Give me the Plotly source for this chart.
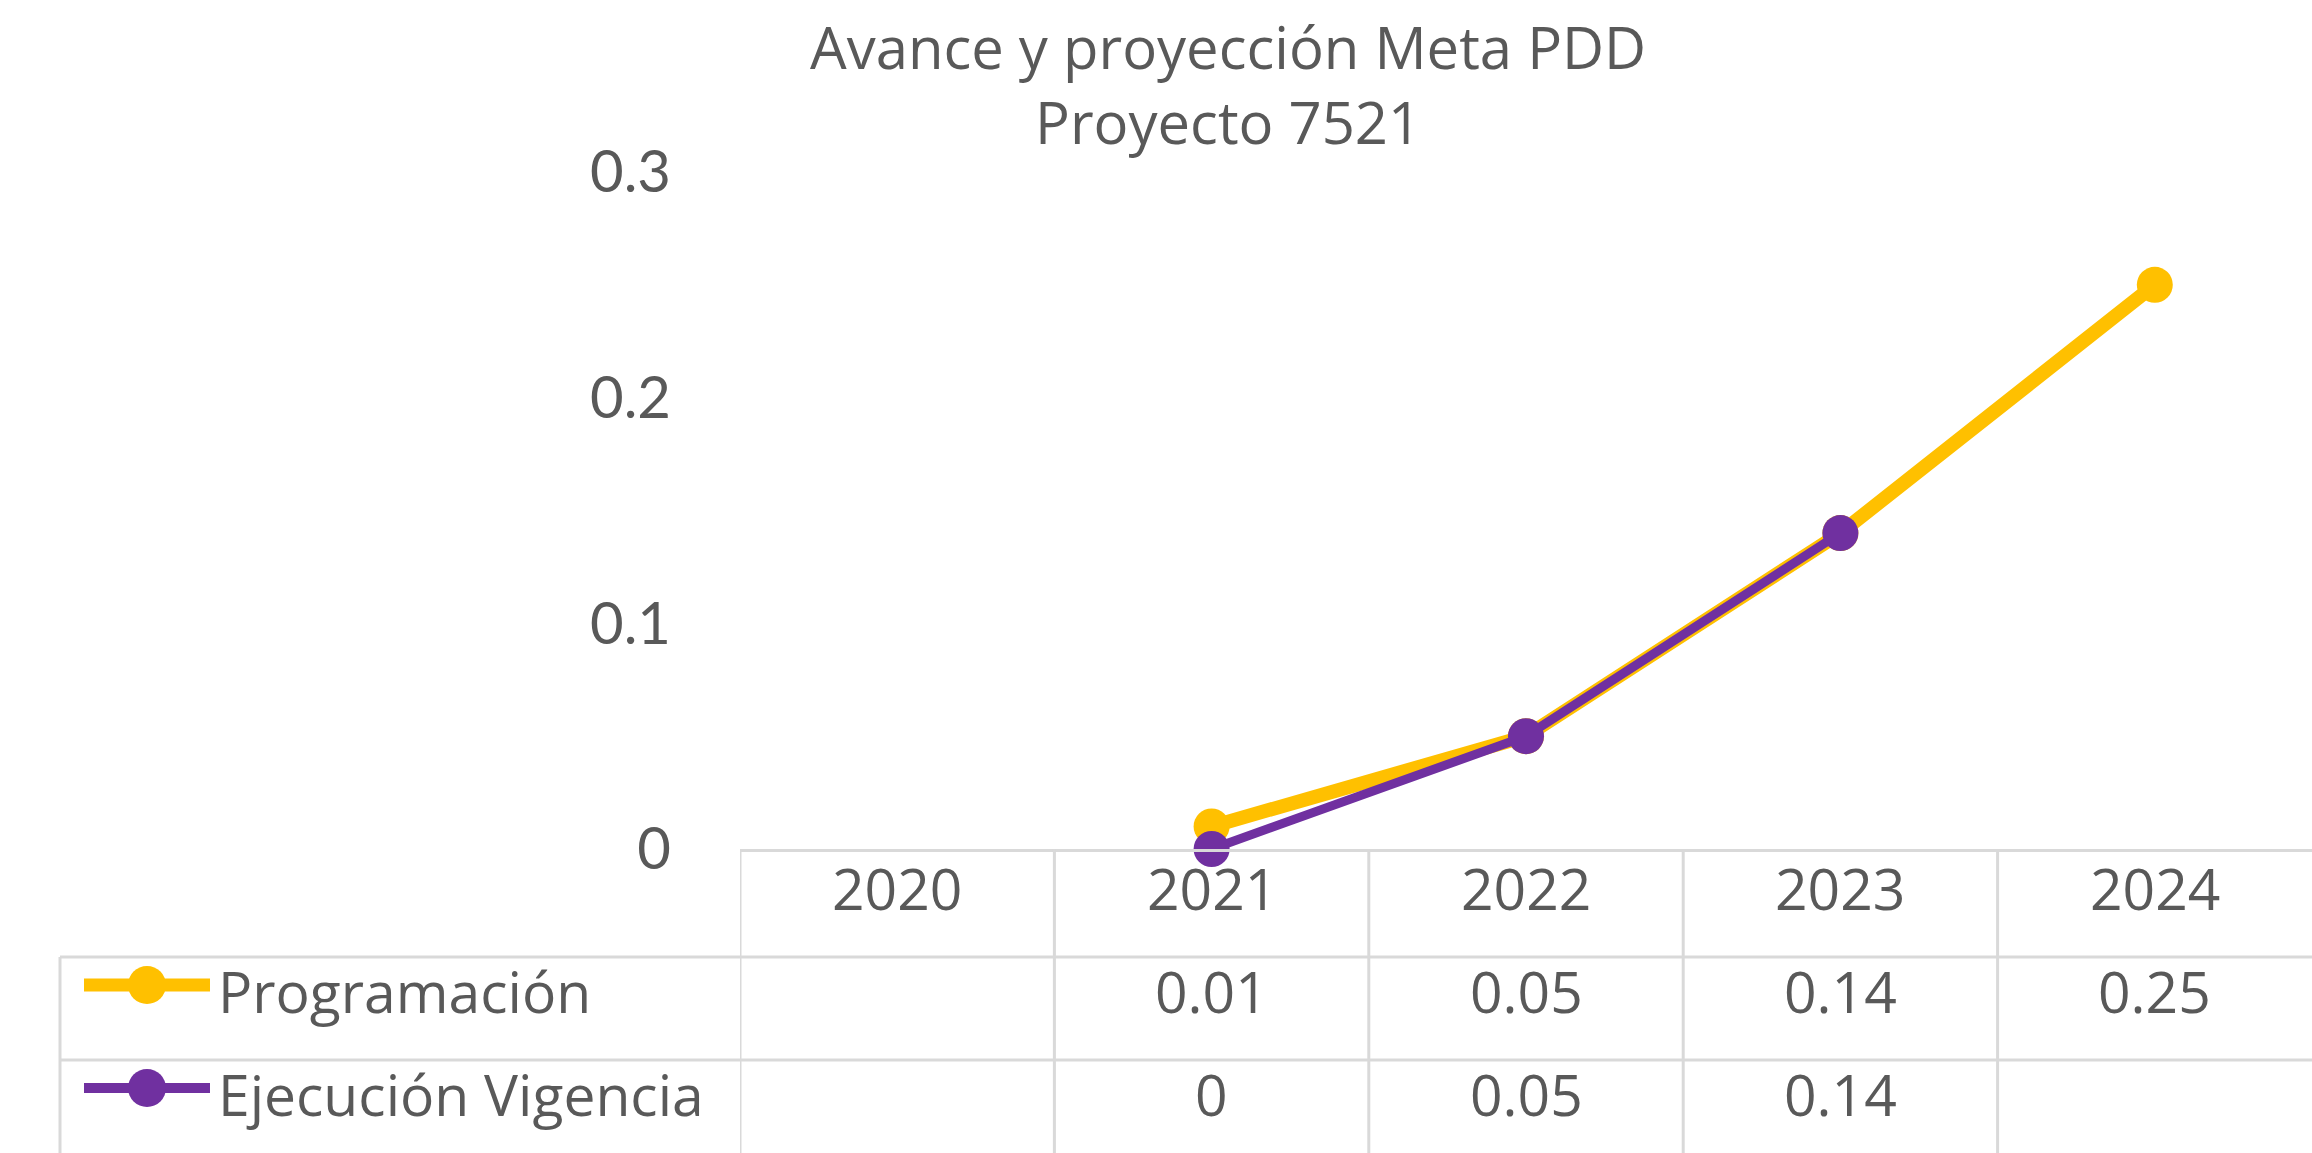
import plotly.graph_objects as go

# data
years = ["2020", "2021", "2022", "2023", "2024"]
programacion = [None, 0.01, 0.05, 0.14, 0.25]
ejecucion = [None, 0.0, 0.05, 0.14, None]
series_names = ["Programación", "Ejecución Vigencia"]
y_ticks = [0, 0.1, 0.2, 0.3]
y_tick_text = ["0", "0.1", "0.2", "0.3"]
title_lines = ["Avance y proyección Meta PDD", "Proyecto 7521"]

W, H = 2312, 1153
YELLOW = "#FFC000"
PURPLE = "#7030A0"
TEXT = "#595959"
GRID = "#D9D9D9"
FONT = "Open Sans"
TICK_FONT = "Lato"
TABLE_SIZE = 57


def fx(px):
    return px / W


def fy(py):
    return 1 - py / H


axis_y = fy(849)
row_lines = [fy(957), fy(1060)]
row_text_y = [fy(888), fy(991), fy(1094)]

fig = go.Figure()
fig.add_trace(go.Scatter(
    x=years, y=programacion, name=series_names[0], mode="lines+markers",
    line=dict(color=YELLOW, width=14), marker=dict(size=36, color=YELLOW),
    cliponaxis=False, showlegend=False,
))
fig.add_trace(go.Scatter(
    x=years, y=ejecucion, name=series_names[1], mode="lines+markers",
    line=dict(color=PURPLE, width=9), marker=dict(size=36, color=PURPLE),
    cliponaxis=False, showlegend=False,
))

shapes = []
annotations = []

# table grid: vertical column separators
for i in range(len(years)):
    shapes.append(dict(type="line", xref="x", yref="paper", x0=i - 0.5, x1=i - 0.5,
                       y0=0, y1=axis_y, line=dict(color=GRID, width=3)))
# horizontal row separators
for ry in row_lines:
    shapes.append(dict(type="line", xref="paper", yref="paper", x0=fx(60), x1=1,
                       y0=ry, y1=ry, line=dict(color=GRID, width=3)))
shapes.append(dict(type="line", xref="paper", yref="paper", x0=fx(60), x1=fx(60),
                   y0=0, y1=row_lines[0], line=dict(color=GRID, width=3)))

# header row (years)
for i, yr in enumerate(years):
    annotations.append(dict(x=i, y=row_text_y[0], xref="x", yref="paper", text=yr,
                            xanchor="center", yanchor="middle", showarrow=False,
                            font=dict(size=TABLE_SIZE, color=TEXT, family=FONT)))

# value rows + legend keys
for r, (vals, name, col) in enumerate([(programacion, series_names[0], YELLOW),
                                       (ejecucion, series_names[1], PURPLE)]):
    ty = row_text_y[r + 1]
    for i, v in enumerate(vals):
        if v is None:
            continue
        annotations.append(dict(x=i, y=ty, xref="x", yref="paper", text=f"{v:g}",
                                xanchor="center", yanchor="middle", showarrow=False,
                                font=dict(size=TABLE_SIZE, color=TEXT, family=FONT)))
    annotations.append(dict(x=fx(216), y=ty, xref="paper", yref="paper", text=name,
                            xanchor="left", yanchor="middle", showarrow=False,
                            font=dict(size=TABLE_SIZE, color=TEXT, family=FONT)))
    ky = fy(985 + 103 * r)
    shapes.append(dict(type="line", xref="paper", yref="paper", x0=fx(84), x1=fx(210),
                       y0=ky, y1=ky, line=dict(color=col, width=13 if r == 0 else 10)))
    shapes.append(dict(type="circle", xref="paper", yref="paper",
                       xsizemode="pixel", ysizemode="pixel",
                       xanchor=fx(147), yanchor=ky,
                       x0=-19, x1=19, y0=-19, y1=19,
                       fillcolor=col, line=dict(color=col, width=0)))

# chart title
annotations.append(dict(x=fx(1228), y=fy(84), xref="paper", yref="paper",
                        text="<br>".join(title_lines), showarrow=False,
                        xanchor="center", yanchor="middle",
                        font=dict(size=58, color=TEXT, family=FONT)))

fig.update_layout(
    width=W, height=H,
    margin=dict(l=0, r=0, t=0, b=0, pad=0),
    paper_bgcolor="white", plot_bgcolor="white",
    showlegend=False,
    xaxis=dict(type="category", domain=[fx(740), 1], range=[-0.5, 4.5],
               showticklabels=False, showgrid=False, zeroline=False, showline=True,
               linecolor=GRID, linewidth=3, ticks="", automargin=False),
    yaxis=dict(domain=[axis_y, fy(172)], range=[0, 0.3], tickvals=y_ticks,
               ticktext=y_tick_text, showgrid=False, zeroline=False, showline=False,
               ticklabelstandoff=68, automargin=False,
               tickfont=dict(size=58, color=TEXT, family=TICK_FONT)),
    shapes=shapes,
    annotations=annotations,
)

fig.write_html("out.html", config={"displayModeBar": False},
               post_script="document.body.style.margin='0';"
                           "document.documentElement.style.overflow='hidden';")
